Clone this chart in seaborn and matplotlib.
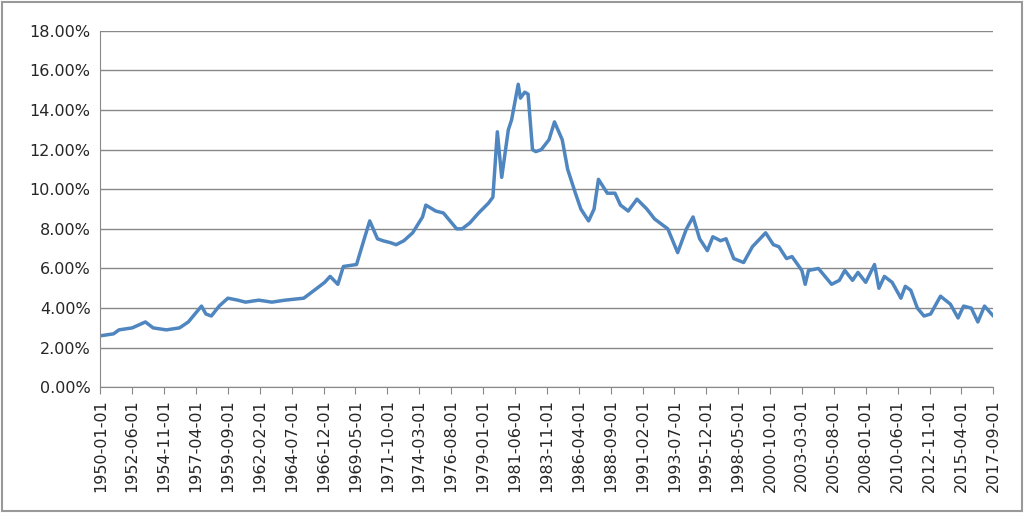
import pandas as pd
import matplotlib.pyplot as plt
import matplotlib.ticker as mticker
import seaborn as sns

# valeurs (taux en %)
dates = ["1950-01", "1951-01", "1951-06", "1952-06", "1953-06", "1954-01", "1955-01", "1956-01",
         "1956-09", "1957-06", "1957-09", "1958-01", "1958-06", "1959-01", "1959-09", "1960-06",
         "1961-01", "1962-01", "1963-01", "1964-01", "1965-06", "1966-06", "1967-01", "1967-06",
         "1968-01", "1968-06", "1969-06", "1970-01", "1970-06", "1971-01", "1971-06", "1972-01",
         "1972-06", "1973-01", "1973-09", "1974-06", "1974-09", "1975-06", "1976-01", "1977-01",
         "1977-06", "1978-01", "1978-09", "1979-06", "1979-10", "1980-02", "1980-06", "1980-12",
         "1981-03", "1981-09", "1981-11", "1982-03", "1982-06", "1982-10", "1983-01", "1983-06",
         "1984-01", "1984-06", "1985-01", "1985-06", "1986-01", "1986-06", "1987-01", "1987-06",
         "1987-10", "1988-06", "1989-01", "1989-06", "1990-01", "1990-09", "1991-06", "1992-01",
         "1993-01", "1993-10", "1994-06", "1994-12", "1995-06", "1996-01", "1996-06", "1997-01",
         "1997-06", "1998-01", "1998-10", "1999-06", "2000-06", "2001-01", "2001-06", "2002-01",
         "2002-06", "2003-03", "2003-06", "2003-09", "2004-06", "2005-06", "2006-01", "2006-06",
         "2007-01", "2007-06", "2008-01", "2008-09", "2009-01", "2009-06", "2010-01", "2010-09",
         "2011-01", "2011-06", "2011-12", "2012-06", "2012-12", "2013-06", "2013-09", "2014-06",
         "2015-01", "2015-06", "2016-01", "2016-07", "2017-01", "2017-09"]
taux = [2.6, 2.7, 2.9, 3.0, 3.3, 3.0, 2.9, 3.0,
        3.3, 3.9, 4.1, 3.7, 3.6, 4.1, 4.5, 4.4,
        4.3, 4.4, 4.3, 4.4, 4.5, 5.0, 5.3, 5.6,
        5.2, 6.1, 6.2, 7.5, 8.4, 7.5, 7.4, 7.3,
        7.2, 7.4, 7.8, 8.6, 9.2, 8.9, 8.8, 8.0,
        8.0, 8.3, 8.8, 9.3, 9.6, 12.9, 10.6, 13.0,
        13.5, 15.3, 14.6, 14.9, 14.8, 12.0, 11.9, 12.0,
        12.5, 13.4, 12.5, 11.0, 9.8, 9.0, 8.4, 9.0,
        10.5, 9.8, 9.8, 9.2, 8.9, 9.5, 9.0, 8.5,
        8.0, 6.8, 8.0, 8.6, 7.5, 6.9, 7.6, 7.4,
        7.5, 6.5, 6.3, 7.1, 7.8, 7.2, 7.1, 6.5,
        6.6, 5.9, 5.2, 5.9, 6.0, 5.2, 5.4, 5.9,
        5.4, 5.8, 5.3, 6.2, 5.0, 5.6, 5.3, 4.5,
        5.1, 4.9, 4.0, 3.6, 3.7, 4.3, 4.6, 4.2,
        3.5, 4.1, 4.0, 3.3, 4.1, 3.6]

df = pd.DataFrame({"date": pd.to_datetime(dates), "taux": taux})
ticks = pd.date_range("1950-01-01", "2017-09-01", freq="29MS")

sns.set_style("white")
fig, ax = plt.subplots(figsize=(10.24, 5.13), dpi=100)
sns.lineplot(data=df, x="date", y="taux", ax=ax, color="#4F86C0", linewidth=2.5)

ax.set_xlim(df["date"].iloc[0], df["date"].iloc[-1])
ax.set_ylim(0, 18)
ax.yaxis.set_major_locator(mticker.MultipleLocator(2))
ax.yaxis.set_major_formatter(mticker.FuncFormatter(lambda v, p: f"{v:.2f}%"))
ax.grid(axis="y", color="#888888", linewidth=1)
ax.set_xticks(ticks)
ax.set_xticklabels([t.strftime("%Y-%m-%d") for t in ticks], rotation=90)
ax.tick_params(axis="x", length=5, color="#888888", direction="out", bottom=True)
ax.tick_params(labelsize=11.5)
for s in ["top", "right"]:
    ax.spines[s].set_visible(False)
for s in ["left", "bottom"]:
    ax.spines[s].set_color("#888888")
ax.set_xlabel("")
ax.set_ylabel("")

fig.subplots_adjust(left=0.098, right=0.97, top=0.94, bottom=0.245)
fig.patches.append(plt.Rectangle((0.002, 0.003), 0.996, 0.994, transform=fig.transFigure,
                                 fill=False, edgecolor="#999999", linewidth=1.5))
plt.savefig("out.png")
